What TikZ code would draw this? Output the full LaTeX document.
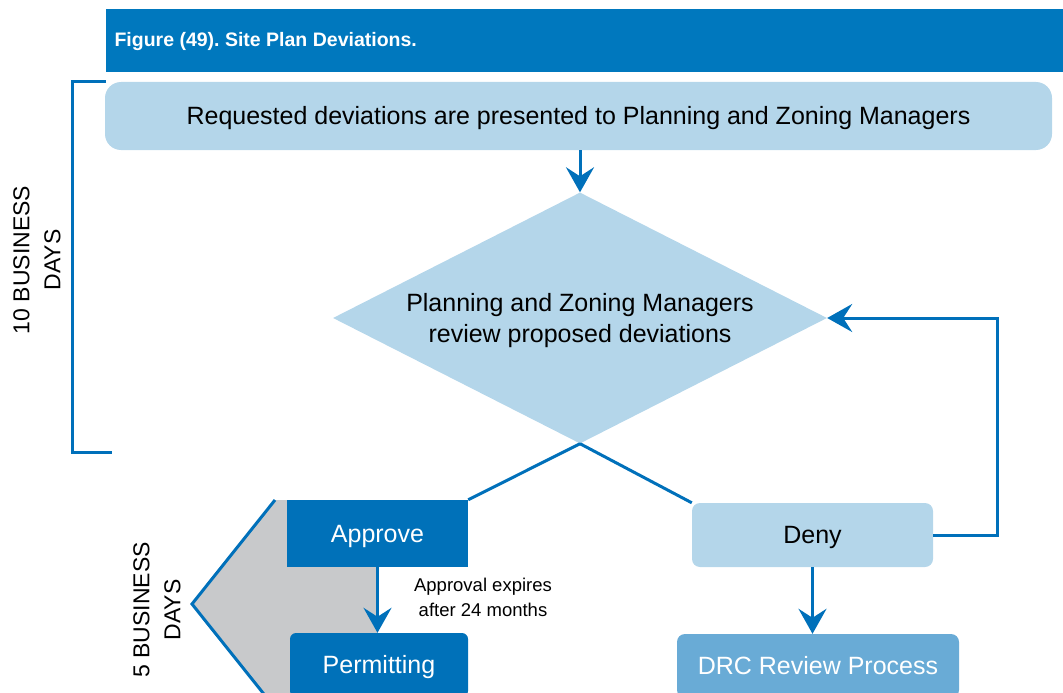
\documentclass[tikz,border=0pt]{standalone}
\usepackage{fontspec}
\setmainfont{Liberation Sans}
\usetikzlibrary{shapes.geometric,arrows.meta}
\definecolor{titleblue}{HTML}{0078BE}
\definecolor{darkbox}{HTML}{0071B9}
\definecolor{lightbox}{HTML}{B4D6EA}
\definecolor{midbox}{HTML}{69ABD6}
\definecolor{lineblue}{HTML}{0070BA}
\definecolor{greyband}{HTML}{C8C9CB}
\frenchspacing

\begin{document}
\begin{tikzpicture}[x=1pt,y=-1pt,
  link/.style={draw=lineblue,line width=3pt},
  flow/.style={link,-{Stealth[length=25pt,width=28pt,inset=9pt]}},
  bigtext/.style={font=\fontsize{25}{31}\selectfont},
  box/.style={bigtext,inner sep=0pt,minimum height=64pt,text height=17.9pt,text depth=0pt},
  daylabel/.style={rotate=90,align=center,font=\fontsize{23}{31}\selectfont}]
  \clip (0,0) rectangle (1063,693);

  \node[fill=titleblue,anchor=north west,inner sep=0pt,minimum width=957pt,minimum height=63pt] (title) at (106,9) {};
  \node[anchor=west,text=white,text height=14pt,text depth=0pt,font=\bfseries\fontsize{19.5}{23}\selectfont] (titletext) at (111,40) {Figure (49). Site Plan Deviations.};

  \node[box,fill=lightbox,rounded corners=16pt,minimum width=947pt,minimum height=68pt] (request) at (578.5,116) {Requested deviations are presented to Planning and Zoning Managers};
  \node[diamond,fill=lightbox,aspect=1.97,inner sep=0pt,minimum width=494pt,minimum height=251pt] (review) at (580,318) {};
  \node[bigtext,align=center] (reviewtext) at (580,321) {Planning and Zoning Managers\\review proposed deviations};

  \fill[greyband] (275,500) -- (377,500) -- (377,708) -- (275,708) -- (192,604) -- cycle;
  \draw[link] (275,500) -- (192,604) -- (275,708);

  \node[box,fill=darkbox,text=white,minimum width=181pt,minimum height=67pt] (approve) at (377.5,533.5) {Approve};
  \node[box,fill=darkbox,text=white,rounded corners=6pt,minimum width=178pt] (permit) at (379,665) {Permitting};
  \node[box,fill=lightbox,rounded corners=8pt,minimum width=241pt] (deny) at (812.5,535) {Deny};
  \node[box,fill=midbox,text=white,rounded corners=8pt,minimum width=282pt] (drc) at (818,666) {DRC Review Process};
  \node[align=center,font=\fontsize{18.5}{25}\selectfont] (expiry) at (483,597) {Approval expires\\after 24 months};

  \node[daylabel] (tendays) at (37,260) {10 BUSINESS\\DAYS};
  \node[daylabel] (fivedays) at (157,610) {5 BUSINESS\\DAYS};
  \draw[link] (106,82) -| (72,452) -- (112,452);

  \coordinate (loop) at (997,318);
  \draw[flow] (review.north |- request.south) -- (review.north);
  \draw[link] (review.south) -- (approve.north east);
  \draw[link] (review.south) -- (deny.north west);
  \draw[flow] (approve.south) -- (approve.south |- permit.north);
  \draw[flow] (deny.south) -- (deny.south |- drc.north);
  \draw[flow] (deny.east) -| (loop) -- (review.east);
\end{tikzpicture}
\end{document}
